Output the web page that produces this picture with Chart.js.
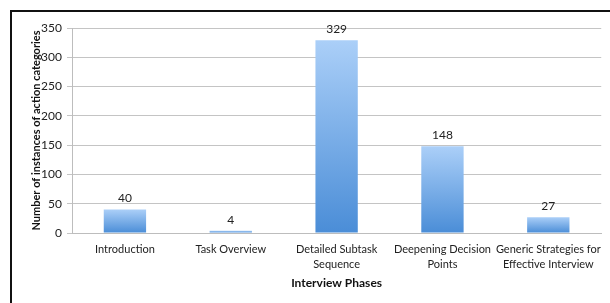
<!DOCTYPE html>
<html>
<head>
<meta charset="utf-8">
<script src="https://cdn.jsdelivr.net/npm/chart.js@4.4.1/dist/chart.umd.min.js"></script>
<style>
  html, body { margin: 0; padding: 0; background: #fff; }
  #wrap { position: relative; width: 610px; height: 303px; overflow: hidden; }
  #frame { position: absolute; left: 10px; top: 10px; width: 620px; height: 320px; border-top: 2px solid #111; border-left: 2px solid #111; }
  canvas { position: absolute; left: 0; top: 0; }
</style>
</head>
<body>
<div id="wrap">
  <div id="frame"></div>
  <canvas id="grafico" width="610" height="303"></canvas>
</div>
<script>
const fases = [
  'Introduction',
  'Task Overview',
  ['Detailed Subtask', 'Sequence'],
  ['Deepening Decision', 'Points'],
  ['Generic Strategies for', 'Effective Interview']
];
const instancias = [40, 4, 329, 148, 27];
const ticksY = [0, 50, 100, 150, 200, 250, 300, 350];

const fuente = "Lato, 'Open Sans', sans-serif";

function degradado(ctx) {
  const chart = ctx.chart;
  if (!chart.chartArea || ctx.raw == null) return '#6fa6e6';
  const y = chart.scales.y;
  const top = y.getPixelForValue(ctx.raw), base = y.getPixelForValue(0);
  const g = chart.ctx.createLinearGradient(0, top, 0, Math.max(base, top + 1));
  g.addColorStop(0, '#abcff8');
  g.addColorStop(1, '#4a8dd7');
  return g;
}

const etiquetas = {
  id: 'etiquetas',
  afterDatasetsDraw(chart) {
    const c = chart.ctx;
    const meta = chart.getDatasetMeta(0);
    c.save();
    c.font = '12px ' + fuente;
    c.fillStyle = '#222';
    c.textAlign = 'center';
    c.textBaseline = 'middle';
    meta.data.forEach((bar, i) => {
      c.fillText(String(instancias[i]), bar.x, bar.y - 11);
    });
    c.restore();
  }
};

new Chart(document.getElementById('grafico'), {
  type: 'bar',
  data: {
    labels: fases,
    datasets: [{
      data: instancias,
      backgroundColor: degradado,
      borderWidth: 0,
      barPercentage: 0.4,
      categoryPercentage: 1
    }]
  },
  options: {
    responsive: false,
    animation: false,
    layout: { padding: { left: 28, right: 3, top: 28, bottom: 13 } },
    plugins: { legend: { display: false }, tooltip: { enabled: false } },
    scales: {
      x: {
        grid: { display: false, drawTicks: false },
        border: { color: '#bdbdbd' },
        ticks: { color: '#222', font: { family: fuente, size: 11, lineHeight: 1.35 }, padding: 9, maxRotation: 0, autoSkip: false },
        title: { display: true, text: 'Interview Phases', color: '#111', font: { family: fuente, size: 12, weight: 'bold' }, padding: { top: 2, bottom: 0 } },
        afterFit(s) { s.height = 57; }
      },
      y: {
        min: 0,
        max: 350,
        afterBuildTicks(s) { s.ticks = ticksY.map(v => ({ value: v })); },
        grid: { color: '#c4c4c4', tickLength: 5 },
        border: { color: '#bdbdbd' },
        ticks: { color: '#222', font: { family: fuente, size: 12 }, padding: 5 },
        title: { display: true, text: 'Number of instances of action categories', color: '#111', font: { family: fuente, size: 11, weight: 'bold' }, padding: { top: 2, bottom: 2 } },
        afterFit(s) { s.width = 44; }
      }
    }
  },
  plugins: [etiquetas]
});
</script>
</body>
</html>
